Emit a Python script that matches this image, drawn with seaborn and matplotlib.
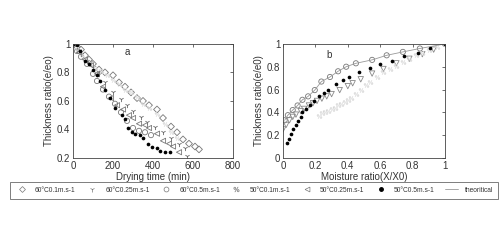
import numpy as np
import pandas as pd
import matplotlib
matplotlib.use("Agg")
import matplotlib.pyplot as plt
import seaborn as sns
from matplotlib.lines import Line2D

# ---------------- data: panel a (drying time vs thickness ratio) -------------
a_t_60_01 = [0, 20, 40, 60, 80, 100, 130, 160, 200, 230, 260, 290, 320, 350, 380, 420, 450, 490, 520, 550, 580, 610, 630]
a_y_60_01 = [1.0, 0.98, 0.96, 0.92, 0.89, 0.86, 0.82, 0.80, 0.78, 0.73, 0.70, 0.66, 0.62, 0.60, 0.57, 0.54, 0.48, 0.42, 0.38, 0.33, 0.30, 0.28, 0.26]

a_t_60_025 = [0, 20, 40, 70, 100, 130, 160, 200, 240, 270, 300, 340, 370, 410, 450, 490, 530, 560, 570]
a_y_60_025 = [1.0, 0.96, 0.93, 0.88, 0.84, 0.79, 0.73, 0.66, 0.61, 0.57, 0.53, 0.49, 0.45, 0.42, 0.38, 0.34, 0.30, 0.27, 0.21]

a_t_60_05 = [0, 20, 40, 70, 100, 120, 150, 180, 210, 240, 270, 300, 330, 360, 390]
a_y_60_05 = [1.0, 0.95, 0.91, 0.86, 0.79, 0.74, 0.68, 0.63, 0.58, 0.52, 0.46, 0.41, 0.39, 0.38, 0.36]

a_t_50_01 = [0, 20, 40, 60, 90, 110, 140, 170, 200, 230, 260, 290, 320, 350, 380, 420, 460, 490, 520]
a_y_50_01 = [1.0, 0.96, 0.93, 0.90, 0.86, 0.83, 0.81, 0.78, 0.75, 0.72, 0.68, 0.66, 0.63, 0.58, 0.55, 0.51, 0.44, 0.38, 0.34]

a_t_50_025 = [0, 30, 60, 90, 120, 150, 190, 220, 250, 280, 300, 330, 360, 380, 420, 450, 480, 500, 530]
a_y_50_025 = [1.0, 0.94, 0.89, 0.85, 0.79, 0.70, 0.62, 0.57, 0.54, 0.50, 0.48, 0.44, 0.43, 0.41, 0.37, 0.32, 0.30, 0.28, 0.24]

a_t_50_05 = [0, 20, 37, 61, 80, 100, 120, 136, 161, 186, 211, 244, 260, 277, 294, 310, 335, 352, 377, 393, 418, 435, 460, 485]
a_y_50_05 = [1.0, 0.99, 0.95, 0.88, 0.86, 0.82, 0.78, 0.74, 0.68, 0.62, 0.55, 0.50, 0.47, 0.41, 0.38, 0.37, 0.36, 0.34, 0.30, 0.28, 0.27, 0.25, 0.24, 0.24]

# ---------------- data: panel b (moisture ratio vs thickness ratio) ----------
b_x_circ = [0.01, 0.03, 0.06, 0.09, 0.12, 0.155, 0.196, 0.237, 0.29, 0.34, 0.39, 0.45, 0.55, 0.64, 0.74, 0.845, 1.0]
b_y_circ = [0.33, 0.375, 0.42, 0.46, 0.51, 0.54, 0.595, 0.67, 0.71, 0.76, 0.80, 0.83, 0.86, 0.90, 0.93, 0.96, 1.0]

b_x_dot = [0.025, 0.037, 0.05, 0.06, 0.08, 0.09, 0.11, 0.12, 0.145, 0.165, 0.19, 0.22, 0.25, 0.28, 0.33, 0.37, 0.41, 0.47, 0.54, 0.60, 0.67, 0.75, 0.835, 0.91, 1.0]
b_y_dot = [0.13, 0.17, 0.21, 0.25, 0.29, 0.32, 0.36, 0.40, 0.43, 0.46, 0.50, 0.54, 0.57, 0.60, 0.645, 0.68, 0.71, 0.75, 0.79, 0.82, 0.85, 0.89, 0.92, 0.96, 1.0]

b_x_tri = [0.0, 0.02, 0.04, 0.06, 0.08, 0.11, 0.13, 0.16, 0.185, 0.21, 0.24, 0.27, 0.30, 0.35, 0.40, 0.43, 0.48, 0.55, 0.62, 0.70, 0.78, 0.86, 0.93, 1.0]
b_y_tri = [0.25, 0.29, 0.33, 0.36, 0.38, 0.41, 0.43, 0.46, 0.48, 0.50, 0.52, 0.54, 0.56, 0.595, 0.63, 0.655, 0.69, 0.74, 0.78, 0.83, 0.87, 0.91, 0.95, 1.0]

b_x_pct = [0.22, 0.24, 0.26, 0.28, 0.30, 0.32, 0.34, 0.36, 0.38, 0.40, 0.42, 0.45, 0.48, 0.51, 0.54, 0.58, 0.62, 0.66, 0.70, 0.74, 0.78, 0.82, 0.86, 0.90, 0.95, 1.0]
b_y_pct = [0.37, 0.39, 0.40, 0.41, 0.43, 0.44, 0.46, 0.47, 0.49, 0.51, 0.53, 0.56, 0.60, 0.64, 0.67, 0.71, 0.75, 0.78, 0.81, 0.84, 0.87, 0.90, 0.92, 0.95, 0.97, 1.0]

legend_labels = ["60\u00b0C0.1m.s-1", "60\u00b0C0.25m.s-1", "60\u00b0C0.5m.s-1",
                 "50\u00b0C0.1m.s-1", "50\u00b0C0.25m.s-1", "50\u00b0C0.5m.s-1", "theoritical"]

sns.set_theme(style="white")
plt.rcParams['font.family'] = ['Liberation Sans', 'DejaVu Sans']
plt.rcParams['font.size'] = 6

fig = plt.figure(figsize=(5.0, 2.4), dpi=100)
fig.patch.set_facecolor("white")
axa = fig.add_axes([0.146, 0.342, 0.32, 0.475])
axb = fig.add_axes([0.566, 0.342, 0.324, 0.475])

styles = {
    "d": dict(marker="D", s=12, facecolor="none", edgecolor="#777777", linewidth=0.6),
    "t": dict(marker="1", s=14, color="#666666", linewidth=0.6),
    "o": dict(marker="o", s=14, facecolor="none", edgecolor="#777777", linewidth=0.6),
    "p": dict(marker="$\\%$", s=14, color="#888888", linewidth=0.2),
    "<": dict(marker="<", s=14, facecolor="none", edgecolor="#777777", linewidth=0.6),
    ".": dict(marker="o", s=7, color="black", linewidth=0),
    "v": dict(marker="v", s=15, facecolor="none", edgecolor="#888888", linewidth=0.6),
}

def sc(ax, x, y, key):
    sns.scatterplot(x=x, y=y, ax=ax, legend=False, **styles[key])

sc(axa, a_t_60_01, a_y_60_01, "d")
sc(axa, a_t_60_025, a_y_60_025, "t")
sc(axa, a_t_60_05, a_y_60_05, "o")
sc(axa, a_t_50_01, a_y_50_01, "p")
sc(axa, a_t_50_025, a_y_50_025, "<")
sc(axa, a_t_50_05, a_y_50_05, ".")

sns.lineplot(x=b_x_circ, y=b_y_circ, ax=axb, color="#999999", linewidth=0.6, legend=False)
sc(axb, b_x_circ, b_y_circ, "o")
sc(axb, b_x_tri, b_y_tri, "v")
sc(axb, b_x_pct, b_y_pct, "p")
sc(axb, b_x_dot, b_y_dot, ".")

for ax in (axa, axb):
    for sp in ax.spines.values():
        sp.set_color("#444444")
        sp.set_linewidth(0.6)
    ax.tick_params(direction="in", length=2, width=0.5, labelsize=7, pad=2,
                   top=True, right=True, colors="#333333")

axa.set_xlim(0, 800)
axa.set_ylim(0.2, 1.0)
axa.set_xticks([0, 200, 400, 600, 800])
axa.set_yticks([0.2, 0.4, 0.6, 0.8, 1.0])
axa.set_yticklabels(["0.2", "0.4", "0.6", "0.8", "1"])
axa.set_xlabel("Drying time (min)", fontsize=7, labelpad=1, color="#333333")
axa.set_ylabel("Thickness ratio(e/eo)", fontsize=7, labelpad=2, color="#333333")
axa.text(260, 0.92, "a", fontsize=7, color="#333333")

axb.set_xlim(0, 1.0)
axb.set_ylim(0, 1.0)
axb.set_xticks([0, 0.2, 0.4, 0.6, 0.8, 1.0])
axb.set_xticklabels(["0", "0.2", "0.4", "0.6", "0.8", "1"])
axb.set_yticks([0, 0.2, 0.4, 0.6, 0.8, 1.0])
axb.set_yticklabels(["0", "0.2", "0.4", "0.6", "0.8", "1"])
axb.set_xlabel("Moisture ratio(X/X0)", fontsize=7, labelpad=1, color="#333333")
axb.set_ylabel("Thickness ratio(e/e0)", fontsize=7, labelpad=2, color="#333333")
axb.text(0.27, 0.88, "b", fontsize=7, color="#333333")

handles = [
    Line2D([], [], ls="none", marker="D", ms=3, mfc="none", mec="#777777", mew=0.5),
    Line2D([], [], ls="none", marker="1", ms=4, color="#777777", mew=0.5),
    Line2D([], [], ls="none", marker="o", ms=3.5, mfc="none", mec="#777777", mew=0.5),
    Line2D([], [], ls="none", marker="$\\%$", ms=4, color="#888888", mew=0.2),
    Line2D([], [], ls="none", marker="<", ms=3.5, mfc="none", mec="#777777", mew=0.5),
    Line2D([], [], ls="none", marker="o", ms=2.5, color="black"),
    Line2D([], [], color="#999999", lw=0.6),
]
leg = fig.legend(handles, legend_labels, ncol=7, loc="center",
                 bbox_to_anchor=(0.508, 0.208), fontsize=4.8, frameon=True,
                 fancybox=False, borderpad=0.75, columnspacing=1.45, handlelength=2.0,
                 handletextpad=1.0)
leg.get_frame().set_edgecolor("#444444")
leg.get_frame().set_linewidth(0.6)
for t in leg.get_texts():
    t.set_color("#333333")

fig.savefig("out.png", dpi=100, facecolor="white")
